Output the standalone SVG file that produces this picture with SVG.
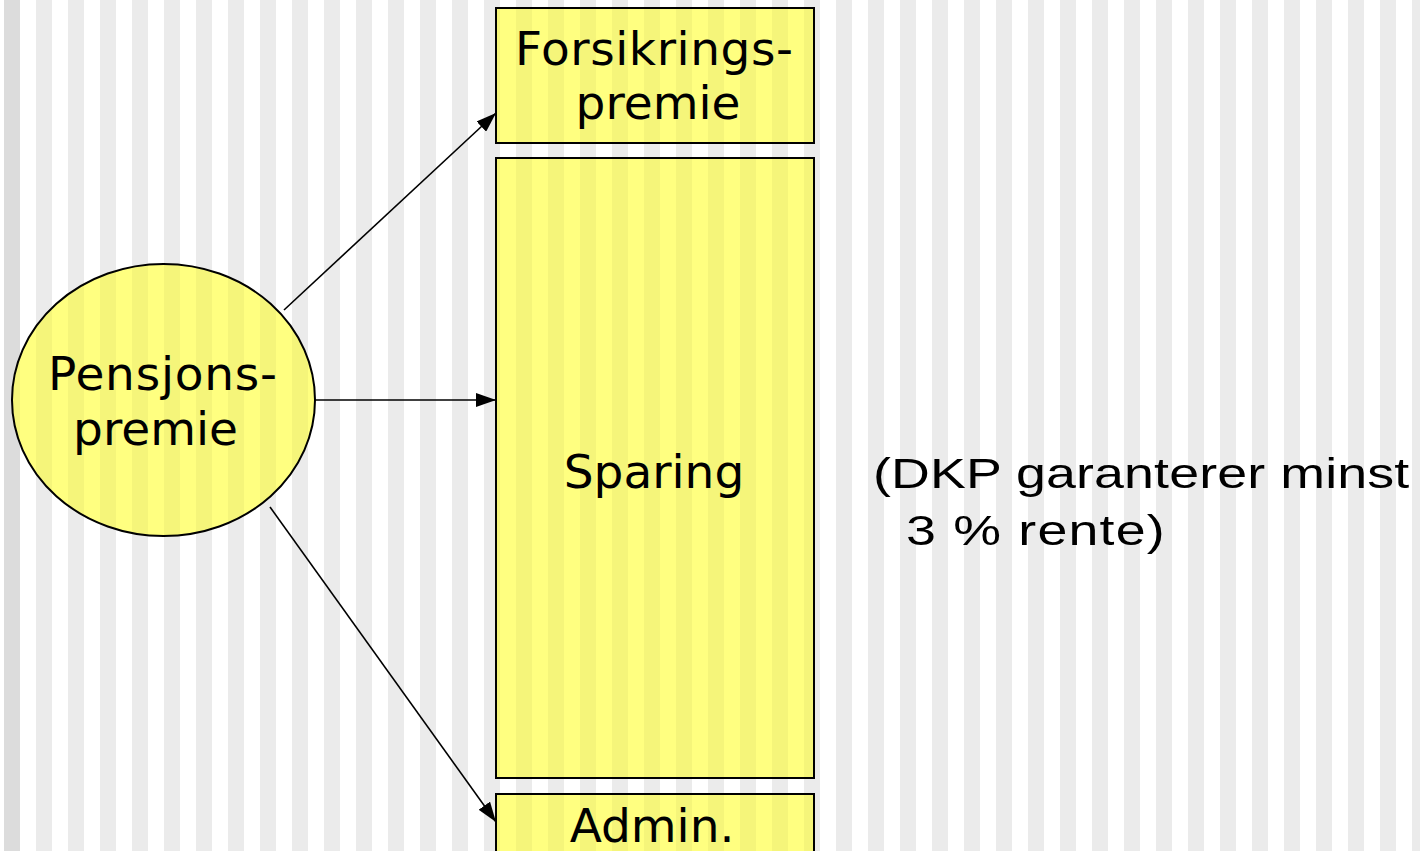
<svg xmlns="http://www.w3.org/2000/svg" width="1420" height="851" viewBox="0 0 1420 851">
<defs>
<pattern id="bg" x="0" y="0" width="32" height="851" patternUnits="userSpaceOnUse">
<rect x="0" y="0" width="32" height="851" fill="#ffffff"/>
<rect x="4" y="0" width="16" height="851" fill="#ebebeb"/>
</pattern>
<pattern id="yel" x="0" y="0" width="32" height="851" patternUnits="userSpaceOnUse">
<rect x="0" y="0" width="32" height="851" fill="#ffff80"/>
<rect x="4" y="0" width="16" height="851" fill="#f5f57a"/>
</pattern>
<marker id="ah" viewBox="0 0 20 14" refX="20" refY="7" markerWidth="20" markerHeight="14" markerUnits="userSpaceOnUse" orient="auto">
<path d="M0,0 L20,7 L0,14 Z" fill="#000"/>
</marker>
<style>
.box{fill:url(#yel);stroke:#000;stroke-width:2}
.lbl{font-family:"DejaVu Sans",Verdana,sans-serif;font-size:47px;fill:#000;text-anchor:middle}
.note{font-family:"Liberation Sans",Arial,sans-serif;font-size:43px;fill:#000}
.con{stroke:#000;stroke-width:1.6;fill:none;marker-end:url(#ah)}
</style>
</defs>
<rect width="1420" height="851" fill="url(#bg)"/>
<rect x="4" y="0" width="16" height="851" fill="#dcdcdc"/>
<g id="connectors">
<line class="con" x1="284" y1="310" x2="496" y2="113"/>
<line class="con" x1="315" y1="400" x2="496" y2="400"/>
<line class="con" x1="270" y1="507" x2="496" y2="822"/>
</g>
<g id="pensjonspremie">
<ellipse class="box" cx="163.5" cy="400" rx="151.5" ry="136"/>
<text class="lbl" x="162.5" y="390" textLength="229" lengthAdjust="spacing">Pensjons-</text>
<text class="lbl" x="155.5" y="445">premie</text>
</g>
<g id="forsikringspremie">
<rect class="box" x="496" y="8" width="318" height="135"/>
<text class="lbl" x="654" y="65" textLength="278" lengthAdjust="spacing">Forsikrings-</text>
<text class="lbl" x="658" y="119">premie</text>
</g>
<g id="sparing">
<rect class="box" x="496" y="158" width="318" height="620"/>
<text class="lbl" x="654" y="488">Sparing</text>
</g>
<g id="admin">
<rect class="box" x="496" y="794" width="318" height="80"/>
<text class="lbl" x="652" y="842">Admin.</text>
</g>
<g id="note">
<text class="note" transform="translate(873,488) scale(1.25,1)" x="0" y="0" textLength="429" lengthAdjust="spacing">(DKP garanterer minst</text>
<text class="note" transform="translate(906,545) scale(1.25,1)" x="0" y="0" textLength="207" lengthAdjust="spacing">3 % rente)</text>
</g>
</svg>
